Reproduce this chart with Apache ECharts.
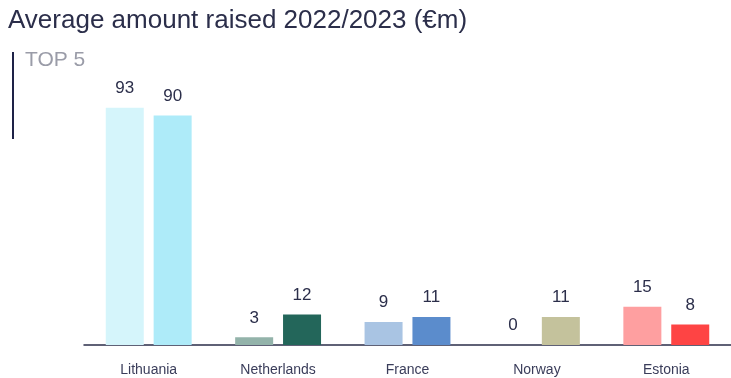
<!DOCTYPE html>
<html>
<head>
<meta charset="utf-8">
<script src="https://cdn.jsdelivr.net/npm/echarts@6/dist/echarts.min.js"></script>
<style>html,body{margin:0;padding:0;background:#fff}#c{width:731px;height:378px}</style>
</head>
<body>
<div id="c"></div>
<script>
const categories = ['Lithuania', 'Netherlands', 'France', 'Norway', 'Estonia'];
const values2022 = [93, 3, 9, 0, 15];
const values2023 = [90, 12, 11, 11, 8];
const colors2022 = ['#d5f5fb', '#93b3aa', '#a9c4e3', '#c4c29c', '#fe9fa0'];
const colors2023 = ['#aeebf9', '#23665a', '#5b8ccc', '#c4c29c', '#fe4444'];

const chart = echarts.init(document.getElementById('c'), null, {renderer: 'canvas'});
const txt = '#2b2e4a';
const ff = '"Liberation Sans", Arial, sans-serif';
function mk(vals, cols) {
  return vals.map((v, i) => ({value: v, itemStyle: {color: cols[i]}}));
}
const labelCfg = {show: true, position: 'top', distance: 11, color: txt, fontSize: 17, fontFamily: ff};
chart.setOption({
  animation: false,
  title: {
    text: 'Average amount raised 2022/2023 (€m)',
    left: 3, top: 3,
    textStyle: {color: txt, fontSize: 26, fontWeight: 'normal', fontFamily: ff}
  },
  graphic: [
    {type: 'rect', shape: {x: 12, y: 52, width: 2, height: 87}, style: {fill: '#1e2247'}},
    {type: 'text', left: 25, top: 50, style: {text: 'TOP 5', fill: '#9a9ca8', fontSize: 21, fontFamily: ff}}
  ],
  grid: {left: 84, width: 660, bottom: 33, top: 90, containLabel: false},
  xAxis: {
    type: 'category', data: categories,
    axisLine: {lineStyle: {color: txt, width: 1.5}},
    axisTick: {show: false},
    axisLabel: {color: '#3a3d5a', fontSize: 14, margin: 18, fontFamily: ff}
  },
  yAxis: {type: 'value', min: 0, max: 100, show: false, splitLine: {show: false}},
  series: [
    {type: 'bar', data: mk(values2022, colors2022), barWidth: 38, barGap: '26%', label: labelCfg},
    {type: 'bar', data: mk(values2023, colors2023), barWidth: 38, barGap: '26%', label: labelCfg}
  ]
});
</script>
</body>
</html>
